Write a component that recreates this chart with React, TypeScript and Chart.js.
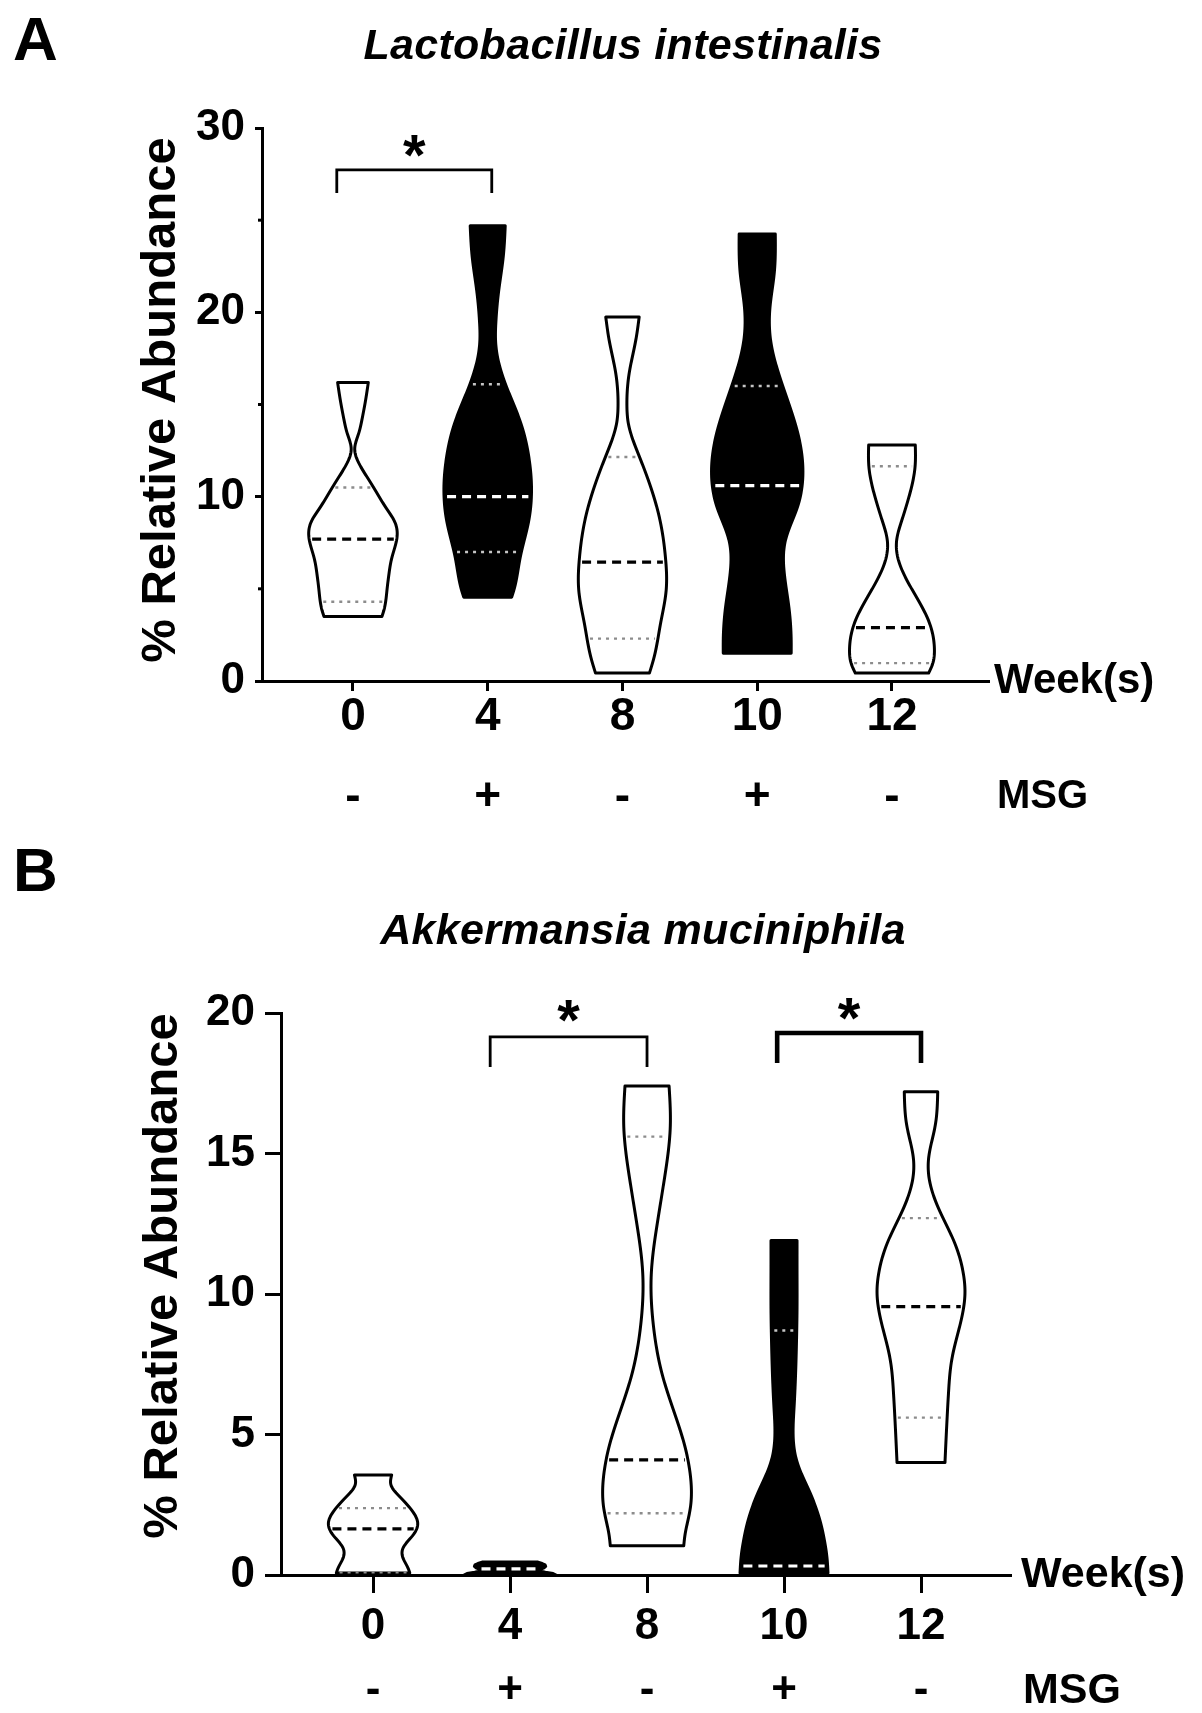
import React, { useEffect, useRef } from 'react';
import { Chart, registerables } from 'chart.js';

Chart.register(...registerables);

// ---------------- shared categories ----------------
const WEEKS = ['0', '4', '8', '10', '12'];
const MSG = ['-', '+', '-', '+', '-'];
const MSG_GIVEN = [false, true, false, true, false];

// ---------------- Panel A : Lactobacillus intestinalis ----------------
const A_TITLE = 'Lactobacillus intestinalis';
const A_Y_MAX = 30;
const A_Y_TICKS = [0, 10, 20, 30];
const A_Y_MINOR = [5, 15, 25];
const A_MEDIAN = [7.7, 10.0, 6.45, 10.6, 2.9];
const A_Q1 = [4.3, 7.0, 2.3, null, 0.97];
const A_Q3 = [10.5, 16.1, 12.15, 16.0, 11.65];
// violin outlines: values from top to bottom, and half widths in category units
const A0_V = [16.2, 15.2, 14.3, 13.4, 12.6, 11.8, 10.9, 10.1, 9.4, 8.6, 7.8, 6.7, 5.8, 4.9, 3.85, 3.5];
const A0_W = [0.114, 0.093, 0.07, 0.041, 0.013, 0.045, 0.119, 0.186, 0.245, 0.312, 0.327, 0.289, 0.267, 0.252, 0.23, 0.215];
const A4_V = [24.7, 23.0, 21.2, 19.4, 18.5, 17.6, 15.8, 14.0, 12.2, 10.4, 8.6, 6.7, 4.9, 4.55];
const A4_W = [0.13, 0.115, 0.082, 0.06, 0.058, 0.072, 0.148, 0.245, 0.304, 0.325, 0.302, 0.241, 0.193, 0.178];
const A8_V = [19.75, 18.5, 16.7, 14.9, 14.0, 12.2, 10.4, 8.6, 6.7, 4.9, 3.1, 1.3, 0.43];
const A8_W = [0.124, 0.099, 0.05, 0.033, 0.043, 0.124, 0.215, 0.282, 0.319, 0.324, 0.282, 0.235, 0.2];
const A10_V = [24.25, 22.1, 20.3, 18.5, 16.7, 14.9, 13.1, 11.3, 9.4, 7.65, 5.9, 4.0, 2.2, 1.5];
const A10_W = [0.134, 0.126, 0.095, 0.099, 0.158, 0.241, 0.312, 0.339, 0.297, 0.21, 0.2, 0.235, 0.252, 0.252];
const A12_V = [12.8, 11.6, 10.4, 8.6, 7.65, 6.7, 4.9, 3.15, 1.7, 0.96, 0.43];
const A12_W = [0.173, 0.171, 0.141, 0.068, 0.035, 0.043, 0.154, 0.278, 0.315, 0.303, 0.272];
const A_BRACKETS = [{ from: -0.12, to: 1.03, top: 27.73, leg: 26.48, star: 29.25 }];

// ---------------- Panel B : Akkermansia muciniphila ----------------
const B_TITLE = 'Akkermansia muciniphila';
const B_Y_MAX = 20;
const B_Y_TICKS = [0, 5, 10, 15, 20];
const B_Y_MINOR: number[] = [];
const B_MEDIAN = [1.64, 0.22, 4.1, 0.32, 9.55];
const B_Q1 = [0.1, null, 2.2, null, 5.6];
const B_Q3 = [2.38, null, 15.6, 8.7, 12.7];
const B0_V = [3.56, 3.2, 2.74, 2.24, 1.85, 1.42, 0.96, 0.6, 0.25, 0.07];
const B0_W = [0.136, 0.131, 0.204, 0.292, 0.326, 0.292, 0.219, 0.219, 0.255, 0.268];
const B4_V = [0.46, 0.36, 0.24, 0.14, 0.06, 0.0];
const B4_W = [0.204, 0.255, 0.241, 0.219, 0.307, 0.336];
const B8_V = [17.4, 16.0, 14.2, 12.45, 10.7, 8.9, 7.1, 5.94, 4.73, 3.56, 2.38, 1.42, 1.04];
const B8_W = [0.161, 0.17, 0.13, 0.073, 0.031, 0.046, 0.113, 0.188, 0.268, 0.316, 0.316, 0.277, 0.268];
const B10_V = [11.9, 10.7, 9.5, 8.3, 7.1, 5.94, 4.73, 4.15, 3.56, 2.97, 2.38, 1.8, 1.2, 0.6, 0.07];
const B10_W = [0.095, 0.095, 0.095, 0.091, 0.084, 0.073, 0.069, 0.088, 0.131, 0.186, 0.234, 0.27, 0.296, 0.314, 0.321];
const B12_V = [17.2, 16.0, 14.8, 14.2, 13.05, 11.85, 10.7, 10.1, 8.9, 7.7, 6.5, 5.34, 4.0];
const B12_W = [0.122, 0.104, 0.055, 0.057, 0.128, 0.243, 0.31, 0.321, 0.285, 0.226, 0.201, 0.188, 0.175];
const B_BRACKETS = [
  { from: 0.855, to: 2.0, top: 19.15, leg: 18.08, star: 20.21 },
  { from: 2.95, to: 4.0, top: 19.29, leg: 18.22, star: 20.28 },
];

// ---------------- styles / layout (kept apart from data) ----------------
const FONT = '"Liberation Sans", Arial, Helvetica, sans-serif';
const BRACKET_WIDTHS_A = [2.8];
const BRACKET_WIDTHS_B = [2.8, 4.6];

const PANEL_A = {
  letter: 'A', title: A_TITLE, yMax: A_Y_MAX, yTicks: A_Y_TICKS, yMinor: A_Y_MINOR,
  violins: [[A0_V, A0_W], [A4_V, A4_W], [A8_V, A8_W], [A10_V, A10_W], [A12_V, A12_W]],
  med: A_MEDIAN, q1: A_Q1, q3: A_Q3, brackets: A_BRACKETS, bracketWidths: BRACKET_WIDTHS_A,
  L: {
    height: 830, bottom: 681, top: 128, yAxisW: 262, rightPad: 213, xMin: -0.675, xMax: 4.72,
    xTick: 10, xPad: -14, xLine: 80, xFont: 46, yTick: 7, yPad: 10, yFont: 44,
    letterBase: 60, titleX: 623, titleBase: 59, titleFont: 43, yTitleX: 161, yTitleY: 400,
    weekDx: 5, weekFont: 42, msgDx: 8, msgFont: 40,
  },
};

const PANEL_B = {
  letter: 'B', title: B_TITLE, yMax: B_Y_MAX, yTicks: B_Y_TICKS, yMinor: B_Y_MINOR,
  violins: [[B0_V, B0_W], [B4_V, B4_W], [B8_V, B8_W], [B10_V, B10_W], [B12_V, B12_W]],
  med: B_MEDIAN, q1: B_Q1, q3: B_Q3, brackets: B_BRACKETS, bracketWidths: BRACKET_WIDTHS_B,
  L: {
    height: 883, bottom: 745, top: 183, yAxisW: 281, rightPad: 191, xMin: -0.672, xMax: 4.657,
    xTick: 18, xPad: 2, xLine: 64, xFont: 44, yTick: 16, yPad: 10, yFont: 44,
    letterBase: 61, titleX: 643, titleBase: 114, titleFont: 43, yTitleX: 163, yTitleY: 446,
    weekDx: 10, weekFont: 43, msgDx: 12, msgFont: 43,
  },
};

// ---------------- drawing helpers ----------------
// natural cubic spline through (xs ascending, ys)
function naturalSpline(xs: number[], ys: number[]) {
  const n = xs.length;
  if (n < 3) {
    return (x: number) => {
      if (n === 1) return ys[0];
      const t = (x - xs[0]) / (xs[1] - xs[0]);
      return ys[0] + (ys[1] - ys[0]) * t;
    };
  }
  const h: number[] = [];
  for (let i = 0; i < n - 1; i++) h.push(xs[i + 1] - xs[i]);
  const a: number[] = new Array(n).fill(0);
  const b: number[] = new Array(n).fill(0);
  const c: number[] = new Array(n).fill(0);
  const d: number[] = new Array(n).fill(0);
  b[0] = 1; b[n - 1] = 1;
  for (let i = 1; i < n - 1; i++) {
    a[i] = h[i - 1];
    b[i] = 2 * (h[i - 1] + h[i]);
    c[i] = h[i];
    d[i] = 6 * ((ys[i + 1] - ys[i]) / h[i] - (ys[i] - ys[i - 1]) / h[i - 1]);
  }
  // Thomas algorithm
  const cp = new Array(n).fill(0);
  const dp = new Array(n).fill(0);
  cp[0] = c[0] / b[0];
  dp[0] = d[0] / b[0];
  for (let i = 1; i < n; i++) {
    const m = b[i] - a[i] * cp[i - 1];
    cp[i] = c[i] / m;
    dp[i] = (d[i] - a[i] * dp[i - 1]) / m;
  }
  const M = new Array(n).fill(0);
  M[n - 1] = dp[n - 1];
  for (let i = n - 2; i >= 0; i--) M[i] = dp[i] - cp[i] * M[i + 1];
  return (x: number) => {
    let i = 0;
    while (i < n - 2 && x > xs[i + 1]) i++;
    const t = x - xs[i];
    const hi = h[i];
    const A = (xs[i + 1] - x) / hi;
    const B = t / hi;
    return A * ys[i] + B * ys[i + 1] + ((A * A * A - A) * M[i] + (B * B * B - B) * M[i + 1]) * (hi * hi) / 6;
  };
}

function makeProfile(vals: number[], half: number[]) {
  const xs = vals.slice().reverse();
  const ys = half.slice().reverse();
  const f = naturalSpline(xs, ys);
  return (v: number) => Math.max(0.006, f(v));
}

function drawViolin(ctx: CanvasRenderingContext2D, xsc: any, ysc: any, cx: number, vals: number[], half: number[],
  dark: boolean, med: number | null, q1: number | null, q3: number | null) {
  const prof = makeProfile(vals, half);
  const top = vals[0];
  const bot = vals[vals.length - 1];
  const yTop = ysc.getPixelForValue(top);
  const yBot = ysc.getPixelForValue(bot);
  const steps = Math.max(8, Math.ceil(Math.abs(yBot - yTop) / 1.5));
  const samples: number[] = [];
  for (let k = 0; k <= steps; k++) samples.push(top + (bot - top) * (k / steps));

  ctx.save();
  ctx.beginPath();
  samples.forEach((v, k) => {
    const px = xsc.getPixelForValue(cx - prof(v));
    const py = ysc.getPixelForValue(v);
    if (k === 0) ctx.moveTo(px, py);
    else ctx.lineTo(px, py);
  });
  for (let k = samples.length - 1; k >= 0; k--) {
    const v = samples[k];
    ctx.lineTo(xsc.getPixelForValue(cx + prof(v)), ysc.getPixelForValue(v));
  }
  ctx.closePath();
  ctx.fillStyle = dark ? '#000' : '#fff';
  ctx.fill();
  ctx.lineWidth = 3;
  ctx.strokeStyle = '#000';
  ctx.lineJoin = 'round';
  ctx.stroke();

  const line = (v: number | null, dash: number[], color: string, width: number) => {
    if (v == null) return;
    const w = prof(v);
    const x1 = xsc.getPixelForValue(cx - w) + 3;
    const x2 = xsc.getPixelForValue(cx + w) - 3;
    const y = ysc.getPixelForValue(v);
    ctx.beginPath();
    ctx.setLineDash(dash);
    ctx.strokeStyle = color;
    ctx.lineWidth = width;
    ctx.lineCap = 'butt';
    ctx.moveTo(x1, y);
    ctx.lineTo(x2, y);
    ctx.stroke();
  };
  line(q1, [3, 5], dark ? '#c4c4c4' : '#8c8c8c', 2.4);
  line(q3, [3, 5], dark ? '#c4c4c4' : '#8c8c8c', 2.4);
  line(med, [9, 6], dark ? '#ffffff' : '#000000', 3.2);
  ctx.restore();
}

function makePlugin(P: any) {
  return {
    id: 'violinPanel' + P.letter,
    afterDatasetsDraw(chart: any) {
      const { ctx, scales } = chart;
      P.violins.forEach((vw: number[][], i: number) => {
        drawViolin(ctx, scales.x, scales.y, i, vw[0], vw[1], MSG_GIVEN[i], P.med[i], P.q1[i], P.q3[i]);
      });
    },
    afterDraw(chart: any) {
      const { ctx, scales, chartArea } = chart;
      const xs = scales.x;
      const ys = scales.y;
      const L = P.L;
      ctx.save();
      ctx.fillStyle = '#000';
      ctx.strokeStyle = '#000';

      // minor y ticks
      ctx.lineWidth = 3;
      P.yMinor.forEach((v: number) => {
        const y = ys.getPixelForValue(v);
        ctx.beginPath();
        ctx.moveTo(chartArea.left - 4, y);
        ctx.lineTo(chartArea.left, y);
        ctx.stroke();
      });

      // panel letter
      ctx.textAlign = 'left';
      ctx.textBaseline = 'alphabetic';
      ctx.font = `bold 62px ${FONT}`;
      ctx.fillText(P.letter, 13, L.letterBase);

      // title
      ctx.textAlign = 'center';
      ctx.font = `italic bold ${L.titleFont}px ${FONT}`;
      try { (ctx as any).letterSpacing = '0.3px'; } catch (e) { /* ignore */ }
      ctx.fillText(P.title, L.titleX, L.titleBase);
      try { (ctx as any).letterSpacing = '0px'; } catch (e) { /* ignore */ }

      // y axis title
      ctx.save();
      ctx.translate(L.yTitleX, L.yTitleY);
      ctx.rotate(-Math.PI / 2);
      ctx.textAlign = 'center';
      ctx.textBaseline = 'middle';
      ctx.font = `bold 49px ${FONT}`;
      ctx.fillText('% Relative Abundance', 0, 0);
      ctx.restore();

      // Week(s) and MSG row labels
      ctx.textAlign = 'left';
      ctx.textBaseline = 'middle';
      ctx.font = `bold ${L.weekFont}px ${FONT}`;
      ctx.fillText('Week(s)', chartArea.right + L.weekDx, chartArea.bottom);
      ctx.font = `bold ${L.msgFont}px ${FONT}`;
      ctx.fillText('MSG', chartArea.right + L.msgDx, chartArea.bottom + L.xTick + L.xPad + L.xLine * 1.5);

      // significance brackets
      P.brackets.forEach((b: any, i: number) => {
        const x1 = xs.getPixelForValue(b.from);
        const x2 = xs.getPixelForValue(b.to);
        const yt = ys.getPixelForValue(b.top);
        const yl = ys.getPixelForValue(b.leg);
        ctx.beginPath();
        ctx.lineWidth = P.bracketWidths[i] || 2.8;
        ctx.lineJoin = 'miter';
        ctx.moveTo(x1, yl);
        ctx.lineTo(x1, yt);
        ctx.lineTo(x2, yt);
        ctx.lineTo(x2, yl);
        ctx.stroke();
        const size = 58;
        ctx.font = `bold ${size}px ${FONT}`;
        ctx.textAlign = 'center';
        ctx.textBaseline = 'alphabetic';
        ctx.fillText('*', (x1 + x2) / 2, ys.getPixelForValue(b.star) + 0.57 * size);
      });
      ctx.restore();
    },
  };
}

function makeChart(canvas: HTMLCanvasElement, P: any) {
  const L = P.L;
  const axisGrid = (tick: number) => ({
    display: true,
    drawOnChartArea: false,
    drawTicks: true,
    tickLength: tick,
    tickWidth: 3,
    tickColor: '#000',
  });
  return new Chart(canvas, {
    type: 'scatter',
    data: {
      datasets: [
        {
          label: 'median',
          data: P.med.map((m: number, i: number) => ({ x: i, y: m })),
          pointRadius: 0,
          showLine: false,
        },
      ],
    },
    options: {
      responsive: false,
      animation: false,
      events: [],
      layout: { padding: { top: L.top, right: L.rightPad, left: 0, bottom: 0 } },
      plugins: {
        legend: { display: false },
        tooltip: { enabled: false },
        title: { display: false },
      },
      scales: {
        x: {
          type: 'linear',
          min: L.xMin,
          max: L.xMax,
          afterFit: (s: any) => { s.height = L.height - L.bottom; },
          afterBuildTicks: (s: any) => { s.ticks = WEEKS.map((_, i) => ({ value: i })); },
          ticks: {
            callback: (v: any) => [WEEKS[v], MSG[v]],
            autoSkip: false,
            maxRotation: 0,
            minRotation: 0,
            padding: L.xPad,
            color: '#000',
            font: { family: FONT, size: L.xFont, weight: 'bold', lineHeight: L.xLine / L.xFont },
          },
          grid: axisGrid(L.xTick),
          border: { display: true, width: 3, color: '#000' },
        },
        y: {
          type: 'linear',
          min: 0,
          max: P.yMax,
          afterFit: (s: any) => { s.width = L.yAxisW; },
          afterBuildTicks: (s: any) => { s.ticks = P.yTicks.map((v: number) => ({ value: v })); },
          ticks: {
            padding: L.yPad,
            color: '#000',
            font: { family: FONT, size: L.yFont, weight: 'bold' },
          },
          grid: axisGrid(L.yTick),
          border: { display: true, width: 3, color: '#000' },
        },
      },
    } as any,
    plugins: [makePlugin(P)],
  });
}

export default function App() {
  const refA = useRef<HTMLCanvasElement>(null);
  const refB = useRef<HTMLCanvasElement>(null);
  useEffect(() => {
    document.body.style.margin = '0';
    const a = makeChart(refA.current as HTMLCanvasElement, PANEL_A);
    const b = makeChart(refB.current as HTMLCanvasElement, PANEL_B);
    return () => {
      a.destroy();
      b.destroy();
    };
  }, []);
  return (
    <div style={{ position: 'relative', width: 1202, height: 1713, background: '#fff' }}>
      <canvas ref={refA} width={1202} height={830} style={{ position: 'absolute', left: 0, top: 0, display: 'block' }} />
      <canvas ref={refB} width={1202} height={883} style={{ position: 'absolute', left: 0, top: 830, display: 'block' }} />
    </div>
  );
}
